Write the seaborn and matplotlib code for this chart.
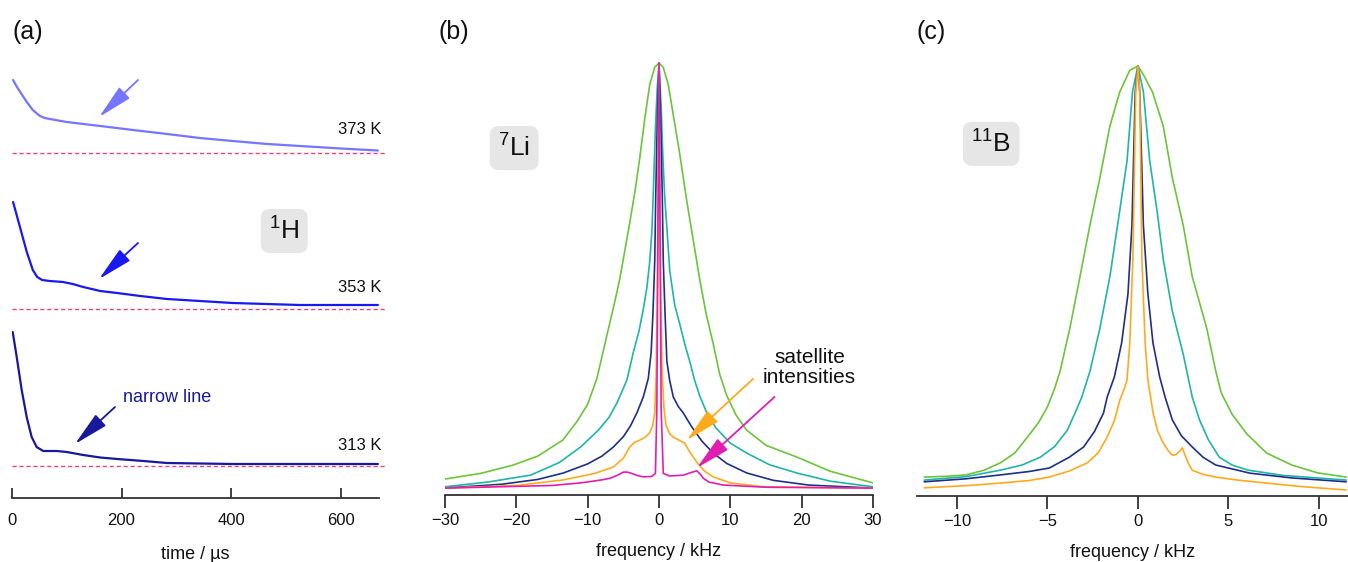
import numpy as np
import matplotlib
matplotlib.use("Agg")
import matplotlib.pyplot as plt
import seaborn as sns

# ---------------- data ----------------
# (a) 1H signal decays (signal height above each baseline, arbitrary units)
t_373 = [2, 8, 15, 27, 38, 51, 60, 69, 100, 161, 221, 283, 343, 403, 466, 526, 600, 668]
s_373 = [73, 67, 61, 51, 43, 37, 35, 34, 31, 27, 23, 19, 15, 12, 9, 7, 4.5, 2.5]
t_353 = [2, 15, 27, 38, 46, 55, 69, 93, 111, 130, 161, 192, 234, 283, 343, 403, 526, 668]
s_353 = [107, 81, 57, 39, 32, 29, 28, 27, 25, 22, 18, 16, 13, 10, 8, 6, 4, 4]
t_313 = [1.3, 8.6, 17.7, 26.8, 35.9, 45, 57, 82, 100, 130, 161, 192, 240, 283, 404, 668]
s_313 = [134, 109, 76, 49, 29, 19, 15, 15, 14, 11, 8.5, 7, 5, 3, 2, 2]
offsets_a = [345, 189, 32]
temps_a = ["373 K", "353 K", "313 K"]

# (b) 7Li spectra (normalized intensity)
li_f_green = [-30, -25, -20.5, -17, -13.5, -11.5, -10, -8.7, -7.3, -6.3, -5.5, -4.1, -3.3, -2.7, -2.0, -1.3, -0.6, 0,
              0.6, 1.3, 2.0, 2.9, 3.9, 4.8, 5.7, 6.6, 7.6, 8.5, 9.5, 10.8, 12.3, 15, 19.3, 24, 30]
li_I_green = [0.037, 0.050, 0.069, 0.09, 0.127, 0.17, 0.21, 0.27, 0.37, 0.44, 0.50, 0.63, 0.71, 0.78, 0.87, 0.95, 0.99, 1.0,
              0.99, 0.95, 0.88, 0.79, 0.68, 0.59, 0.50, 0.42, 0.35, 0.28, 0.23, 0.185, 0.15, 0.115, 0.088, 0.055, 0.028]
li_f_teal = [-30, -24, -18, -14, -11, -8.5, -7, -5.9, -4.5, -3.6, -2.8, -2.2, -1.7, -1.3, -1.0, -0.8, -0.5, -0.25, 0,
             0.3, 0.55, 0.8, 1.1, 1.5, 2.2, 3, 3.6, 4.3, 5, 5.7, 6.7, 8, 10, 12.3, 15.5, 19.3, 24, 30]
li_I_teal = [0.019, 0.03, 0.046, 0.075, 0.111, 0.15, 0.18, 0.213, 0.266, 0.33, 0.38, 0.43, 0.48, 0.54, 0.61, 0.70, 0.85, 0.94, 1.0,
             0.90, 0.78, 0.69, 0.62, 0.52, 0.44, 0.39, 0.35, 0.31, 0.265, 0.23, 0.19, 0.155, 0.12, 0.097, 0.07, 0.051, 0.032, 0.019]
li_f_navy = [-30, -22, -17, -13.4, -10, -8, -6.4, -5, -4, -3.1, -2.2, -1.5, -1.1, -0.85, -0.6, -0.45, -0.25, 0,
             0.25, 0.45, 0.6, 0.85, 1.1, 1.5, 2, 2.7, 3.4, 4.5, 6, 7.6, 9.5, 12.3, 16, 21, 30]
li_I_navy = [0.016, 0.025, 0.036, 0.051, 0.072, 0.09, 0.111, 0.135, 0.16, 0.19, 0.227, 0.27, 0.33, 0.42, 0.54, 0.70, 0.86, 1.0,
             0.86, 0.70, 0.54, 0.42, 0.31, 0.265, 0.227, 0.205, 0.19, 0.16, 0.125, 0.097, 0.073, 0.051, 0.034, 0.023, 0.016]
li_f_orange = [-30, -20, -13.4, -9, -6.4, -5, -4.1, -3.4, -2.7, -2, -1.3, -0.9, -0.6, -0.4, -0.25, -0.12, 0,
               0.12, 0.25, 0.45, 0.7, 1.0, 1.5, 2, 2.8, 3.6, 4.3, 5.3, 6.4, 7.6, 10, 14.6, 30]
li_I_orange = [0.016, 0.022, 0.035, 0.05, 0.065, 0.085, 0.111, 0.122, 0.127, 0.133, 0.144, 0.16, 0.19, 0.28, 0.45, 0.7, 1.0,
               0.7, 0.45, 0.28, 0.2, 0.16, 0.142, 0.134, 0.127, 0.12, 0.10, 0.076, 0.055, 0.042, 0.028, 0.019, 0.016]
li_f_magenta = [-30, -15, -11, -8, -6.8, -5.8, -5, -4.5, -4, -3, -2.2, -1, -0.5, -0.3, -0.15, 0,
                0.15, 0.3, 0.6, 1.5, 2.5, 3.4, 4.5, 5.3, 5.8, 6.2, 7, 9, 15, 30]
li_I_magenta = [0.016, 0.022, 0.028, 0.035, 0.039, 0.046, 0.053, 0.053, 0.051, 0.045, 0.042, 0.043, 0.05, 0.2, 0.6, 1.0,
                0.6, 0.2, 0.05, 0.044, 0.045, 0.046, 0.052, 0.056, 0.048, 0.039, 0.03, 0.023, 0.018, 0.016]

# (c) 11B spectra (normalized intensity)
b_f_green = [-11.8, -10.5, -9.5, -8.5, -7.6, -6.8, -6.1, -5.5, -5.0, -4.6, -4.3, -3.76, -3.2, -2.65, -2.1, -1.55, -1.0, -0.45, 0,
             0.3, 0.8, 1.4, 1.9, 2.5, 3.0, 3.4, 3.8, 4.3, 4.6, 5.2, 6.0, 7.1, 8.5, 9.9, 11.5]
b_I_green = [0.044, 0.046, 0.049, 0.06, 0.077, 0.10, 0.137, 0.17, 0.207, 0.25, 0.29, 0.39, 0.51, 0.63, 0.74, 0.86, 0.94, 0.99, 1.0,
             0.98, 0.94, 0.86, 0.74, 0.63, 0.51, 0.45, 0.39, 0.29, 0.24, 0.19, 0.145, 0.10, 0.072, 0.054, 0.044]
b_f_teal = [-11.8, -9.5, -7.6, -6.4, -5.4, -4.6, -3.9, -3.4, -3.1, -2.65, -2.1, -1.55, -1.0, -0.6, -0.3, 0,
            0.3, 0.65, 1.05, 1.4, 1.9, 2.5, 3.0, 3.4, 3.9, 4.5, 5.2, 6.1, 8, 11.5]
b_I_teal = [0.037, 0.045, 0.06, 0.072, 0.09, 0.115, 0.153, 0.20, 0.23, 0.29, 0.39, 0.51, 0.665, 0.78, 0.94, 1.0,
            0.94, 0.78, 0.665, 0.55, 0.43, 0.33, 0.23, 0.177, 0.13, 0.09, 0.072, 0.06, 0.048, 0.037]
b_f_navy = [-11.8, -9.5, -7.6, -6, -4.9, -3.8, -3.0, -2.4, -1.9, -1.7, -1.3, -0.9, -0.55, -0.33, -0.15, 0,
            0.1, 0.3, 0.55, 0.83, 1.2, 1.5, 1.9, 2.4, 3.0, 3.6, 4.3, 6.2, 8.5, 11.5]
b_I_navy = [0.033, 0.04, 0.049, 0.057, 0.065, 0.09, 0.114, 0.15, 0.193, 0.23, 0.277, 0.356, 0.47, 0.63, 0.94, 1.0,
            0.94, 0.63, 0.47, 0.356, 0.277, 0.23, 0.177, 0.14, 0.114, 0.09, 0.072, 0.053, 0.042, 0.033]
b_f_orange = [-11.8, -9.5, -7.6, -6, -4.9, -3.8, -2.8, -2.2, -1.7, -1.3, -1.0, -0.75, -0.6, -0.45, -0.28, -0.12, 0,
              0.1, 0.22, 0.4, 0.55, 0.7, 0.85, 1.1, 1.4, 1.7, 1.9, 2.1, 2.3, 2.45, 2.6, 2.8, 3.0, 3.6, 4.3, 5.5, 7.1, 9, 11.5]
b_I_orange = [0.019, 0.024, 0.030, 0.036, 0.044, 0.058, 0.077, 0.10, 0.137, 0.175, 0.223, 0.25, 0.27, 0.356, 0.55, 0.94, 1.0,
              0.94, 0.55, 0.356, 0.27, 0.23, 0.19, 0.15, 0.123, 0.104, 0.095, 0.096, 0.104, 0.112, 0.095, 0.075, 0.06, 0.05, 0.044, 0.037, 0.03, 0.022, 0.014]

# colours
c_green, c_teal, c_navy, c_orange, c_magenta = "#6cc43a", "#1fb5a8", "#1f2f88", "#ffaa1e", "#e21db2"
c_a = ["#7575ff", "#1818f0", "#18189a"]
c_base = "#e8457e"

# ---------------- style ----------------
sns.set_theme(style="white")
plt.rcParams["font.family"] = ["Liberation Sans", "DejaVu Sans"]
plt.rcParams["mathtext.fontset"] = "custom"
plt.rcParams["mathtext.rm"] = "Liberation Sans"
plt.rcParams["mathtext.it"] = "Liberation Sans:italic"
plt.rcParams["axes.unicode_minus"] = True

fig = plt.figure(figsize=(13.48, 5.62), dpi=100)
W, H = 1348, 562


def px_axes(x0, x1, ybot, ytop):
    return fig.add_axes([x0 / W, 1 - ybot / H, (x1 - x0) / W, (ybot - ytop) / H])


def style_axis(ax, direction, length, pad):
    for s in ["left", "right", "top"]:
        ax.spines[s].set_visible(False)
    ax.spines["bottom"].set_color("#333333")
    ax.spines["bottom"].set_linewidth(1.3)
    ax.set_yticks([])
    ax.set_ylabel("")
    ax.tick_params(axis="x", direction=direction, length=length, width=1.3,
                   color="#333333", pad=pad, labelsize=12, labelcolor="#111111",
                   bottom=True)


def box_label(ax, x, y, s):
    ax.text(x, y, s, fontsize=19, ha="center", va="center", color="#111111",
            bbox=dict(boxstyle="round,pad=0.32,rounding_size=0.35", fc="#e6e6e6", ec="none"))


def arrow(ax, tail, tip, color, lw=1.3):
    ax.annotate("", xy=tip, xytext=tail,
                arrowprops=dict(arrowstyle="-|>,head_length=1.2,head_width=0.26",
                                color=color, lw=lw, shrinkA=0, shrinkB=0,
                                mutation_scale=18))


# ---------------- panel (a) ----------------
axa = px_axes(12, 379, 498, 40)
series_a = [(t_373, s_373), (t_353, s_353), (t_313, s_313)]
for (tt, ss), off, col in zip(series_a, offsets_a, c_a):
    sns.lineplot(x=tt, y=np.array(ss) + off, ax=axa, color=col, lw=1.6)
    axa.plot([0, 685], [off, off], ls=(0, (3, 2)), color=c_base, lw=1.0, clip_on=False)
axa.set_xlim(0, 670)
axa.set_ylim(0, 458)
axa.set_xticks([0, 200, 400, 600])
style_axis(axa, "in", 7, 11)
axa.set_xlabel("time / µs", fontsize=13, labelpad=13, color="#111111")
temp_y = [368, 210, 53]
for lab, yy in zip(temps_a, temp_y):
    axa.text(675, yy, lab, fontsize=12, ha="right", va="center", color="#111111", clip_on=False)
arrow(axa, (230, 418), (159, 381), c_a[0])
arrow(axa, (230, 255), (159, 219), c_a[1])
arrow(axa, (188, 91), (115, 54), c_a[2])
axa.text(203, 100, "narrow line", fontsize=13, color=c_a[2], ha="left", va="center")
box_label(axa, 497, 267, r"$\mathregular{^{1}}$H")

# ---------------- panel (b) ----------------
axb = px_axes(445, 873, 495, 495 - 1.05 * 432)
for ff, II, col in [(li_f_green, li_I_green, c_green), (li_f_teal, li_I_teal, c_teal),
                    (li_f_navy, li_I_navy, c_navy), (li_f_orange, li_I_orange, c_orange),
                    (li_f_magenta, li_I_magenta, c_magenta)]:
    sns.lineplot(x=ff, y=II, ax=axb, color=col, lw=1.2)
axb.set_xlim(-30, 30)
axb.set_ylim(0, 1.05)
axb.set_xticks([-30, -20, -10, 0, 10, 20, 30])
style_axis(axb, "out", 9, 4)
axb.set_xlabel("frequency / kHz", fontsize=13, labelpad=11, color="#111111")
box_label(axb, -20.3, 0.803, r"$\mathregular{^{7}}$Li")
arrow(axb, (13.2, 0.269), (3.9, 0.127), c_orange)
arrow(axb, (16.2, 0.227), (5.3, 0.0625), c_magenta)
axb.text(21.1, 0.295, "satellite\nintensities", fontsize=15, ha="center", va="center",
         linespacing=1.05, color="#111111")

# ---------------- panel (c) ----------------
axc = px_axes(917, 1348, 496, 496 - 1.05 * 430)
for ff, II, col in [(b_f_green, b_I_green, c_green), (b_f_teal, b_I_teal, c_teal),
                    (b_f_navy, b_I_navy, c_navy), (b_f_orange, b_I_orange, c_orange)]:
    sns.lineplot(x=ff, y=II, ax=axc, color=col, lw=1.2)
axc.set_xlim(-12.2, 11.6)
axc.set_ylim(0, 1.05)
axc.set_xticks([-10, -5, 0, 5, 10])
style_axis(axc, "out", 9, 4)
axc.set_xlabel("frequency / kHz", fontsize=13, labelpad=11, color="#111111")
box_label(axc, -8.1, 0.819, r"$\mathregular{^{11}}$B")

# panel letters
for lab, xp in [("(a)", 12), ("(b)", 439), ("(c)", 916)]:
    fig.text(xp / W, 1 - 32 / H, lab, fontsize=18, ha="left", va="center", color="#111111")

fig.savefig("out.png", dpi=100)
